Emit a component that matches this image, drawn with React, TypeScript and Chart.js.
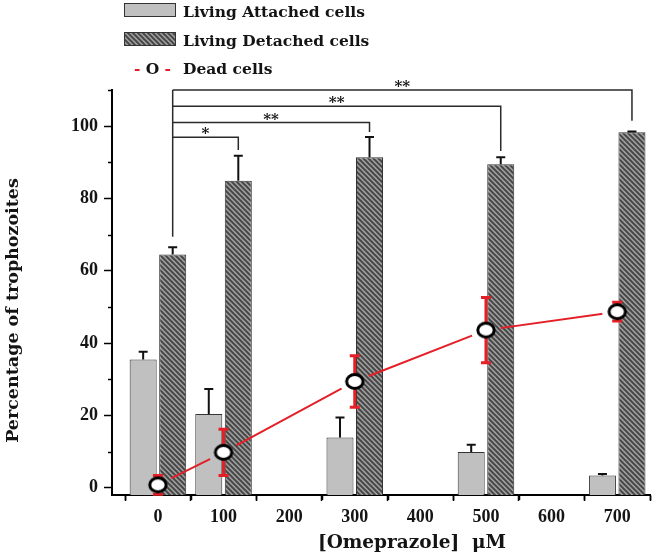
import React, { useEffect, useRef } from 'react';
import { Chart, registerables } from 'chart.js';

Chart.register(...registerables);

// ---- data ----
const concentrations = [0, 100, 300, 500, 700];
const attached = [35.5, 20.4, 13.9, 9.9, 3.4];
const attachedErr = [2.1, 6.9, 5.5, 2.0, 0.4];
const detached = [64.5, 84.9, 91.4, 89.5, 98.3];
const detachedErr = [2.0, 6.9, 5.6, 1.9, 0.2];
const dead = [0.8, 9.8, 29.4, 43.6, 48.7];
const deadErr = [2.6, 6.4, 7.1, 9.0, 2.6];

const legendLabels = ['Living Attached cells', 'Living Detached cells', 'Dead cells'];
const xTitle = '[Omeprazole]  \u03BCM';
const yTitle = 'Percentage of trophozoites';

// significance brackets: compared concentration, mark, bracket level, drop end (data units)
const sigCompare = [100, 300, 500, 700];
const sigMarks = ['*', '**', '**', '**'];
const sigLevels = [96.9, 101, 105.5, 110];
const sigDrops = [93.4, 98.4, 93.1, 101.5];
const sigBaseDrop = 69.4;

const X_MIN = -70;
const X_MAX = 750;
const Y_MIN = -2;
const Y_MAX = 110;

const RED = '#e41f26';
const TEXT = '#141414';
const SERIF = '"DejaVu Serif", serif';
const NUMF = '"Liberation Serif", serif';

function makeHatch(): CanvasPattern | string {
  const s = 5;
  const c = document.createElement('canvas');
  c.width = s;
  c.height = s;
  const g = c.getContext('2d');
  if (!g) return '#6d6d6d';
  g.fillStyle = '#9c9c9c';
  g.fillRect(0, 0, s, s);
  g.strokeStyle = '#444444';
  g.lineWidth = 1.9;
  g.beginPath();
  g.moveTo(-1, -1);
  g.lineTo(s + 1, s + 1);
  g.moveTo(-1, s - 1);
  g.lineTo(1, s + 1);
  g.moveTo(s - 1, -1);
  g.lineTo(s + 1, 1);
  g.stroke();
  return g.createPattern(c, 'repeat') || '#6d6d6d';
}

function makeMarker(): HTMLCanvasElement {
  const c = document.createElement('canvas');
  c.width = 22;
  c.height = 19;
  const g = c.getContext('2d')!;
  g.beginPath();
  g.ellipse(11, 9.5, 8.2, 6.9, 0, 0, Math.PI * 2);
  g.fillStyle = '#ffffff';
  g.fill();
  g.lineWidth = 3;
  g.strokeStyle = '#000000';
  g.stroke();
  return c;
}

const xy = (arr: number[]) => concentrations.map((c, i) => ({ x: c, y: arr[i] }));

export default function App() {
  const ref = useRef<HTMLCanvasElement>(null);

  useEffect(() => {
    const canvas = ref.current;
    if (!canvas) return;
    const hatch = makeHatch();
    const marker = makeMarker();
    const GAP_R = 15;

    const annotate = {
      id: 'annotate',
      beforeDatasetDraw(chart: any, args: any) {
        if (args.index !== 2) return;
        const ctx = chart.ctx;
        const meta = chart.getDatasetMeta(2);
        ctx.save();
        ctx.beginPath();
        ctx.rect(0, 0, chart.width, chart.height);
        meta.data.forEach((p: any) => {
          ctx.moveTo(p.x + GAP_R, p.y);
          ctx.arc(p.x, p.y, GAP_R, 0, Math.PI * 2);
        });
        ctx.clip('evenodd');
      },
      afterDatasetDraw(chart: any, args: any) {
        const ctx = chart.ctx;
        const ys = chart.scales.y;
        if (args.index === 2) {
          ctx.restore();
          const meta = chart.getDatasetMeta(2);
          ctx.save();
          ctx.strokeStyle = RED;
          ctx.lineWidth = 3;
          meta.data.forEach((p: any, i: number) => {
            const top = ys.getPixelForValue(dead[i] + deadErr[i]);
            const bot = ys.getPixelForValue(dead[i] - deadErr[i]);
            ctx.beginPath();
            ctx.moveTo(p.x, top);
            ctx.lineTo(p.x, bot);
            ctx.moveTo(p.x - 5, top);
            ctx.lineTo(p.x + 5, top);
            ctx.moveTo(p.x - 5, bot);
            ctx.lineTo(p.x + 5, bot);
            ctx.stroke();
          });
          ctx.restore();
        }
        if (args.index === 0) {
          ctx.save();
          ctx.strokeStyle = '#111';
          ctx.lineWidth = 2;
          const sets: [number, number[], number[]][] = [
            [0, attached, attachedErr],
            [1, detached, detachedErr],
          ];
          sets.forEach(([di, vals, errs]) => {
            const meta = chart.getDatasetMeta(di);
            meta.data.forEach((b: any, i: number) => {
              const top = ys.getPixelForValue(vals[i]);
              const end = ys.getPixelForValue(vals[i] + errs[i]);
              ctx.beginPath();
              ctx.moveTo(b.x, top);
              ctx.lineTo(b.x, end);
              ctx.moveTo(b.x - 4.5, end);
              ctx.lineTo(b.x + 4.5, end);
              ctx.stroke();
            });
          });
          ctx.restore();
        }
      },
      afterDraw(chart: any) {
        const ctx = chart.ctx;
        const xs = chart.scales.x;
        const ys = chart.scales.y;
        const area = chart.chartArea;
        ctx.save();

        // minor ticks
        ctx.strokeStyle = '#000';
        ctx.lineWidth = 1.5;
        ctx.beginPath();
        for (let v = -50; v <= X_MAX; v += 100) {
          const px = Math.round(xs.getPixelForValue(v)) + 0.5;
          ctx.moveTo(px, area.bottom);
          ctx.lineTo(px, area.bottom + 5);
        }
        for (let v = 10; v <= Y_MAX; v += 20) {
          const py = Math.round(ys.getPixelForValue(v)) + 0.5;
          ctx.moveTo(area.left, py);
          ctx.lineTo(area.left - 4, py);
        }
        ctx.stroke();

        // significance brackets
        const det = chart.getDatasetMeta(1);
        const x0 = det.data[0].x;
        ctx.strokeStyle = '#2a2a2a';
        ctx.lineWidth = 1.5;
        ctx.beginPath();
        ctx.moveTo(x0, ys.getPixelForValue(sigLevels[sigLevels.length - 1]));
        ctx.lineTo(x0, ys.getPixelForValue(sigBaseDrop));
        sigCompare.forEach((c, k) => {
          const idx = concentrations.indexOf(c);
          const x1 = det.data[idx].x;
          const yl = ys.getPixelForValue(sigLevels[k]);
          ctx.moveTo(x0, yl);
          ctx.lineTo(x1, yl);
          ctx.lineTo(x1, ys.getPixelForValue(sigDrops[k]));
        });
        ctx.stroke();
        ctx.fillStyle = TEXT;
        ctx.font = `bold 15px ${SERIF}`;
        ctx.textAlign = 'center';
        ctx.textBaseline = 'alphabetic';
        sigCompare.forEach((c, k) => {
          const idx = concentrations.indexOf(c);
          const x1 = det.data[idx].x;
          const yl = ys.getPixelForValue(sigLevels[k]);
          ctx.fillText(sigMarks[k], (x0 + x1) / 2, yl + 1);
        });

        // legend
        const lx = 124;
        const ds = chart.data.datasets;
        ctx.lineWidth = 1;
        ctx.strokeStyle = '#333';
        ctx.fillStyle = ds[0].backgroundColor;
        ctx.fillRect(lx, 3, 52, 14);
        ctx.strokeRect(lx + 0.5, 3.5, 51, 13);
        ctx.fillStyle = ds[1].backgroundColor;
        ctx.fillRect(lx, 32, 52, 14);
        ctx.strokeRect(lx + 0.5, 32.5, 51, 13);
        ctx.font = `bold 15.5px ${SERIF}`;
        ctx.textAlign = 'left';
        ctx.fillStyle = TEXT;
        ctx.fillText(legendLabels[0], 183, 17);
        ctx.fillText(legendLabels[1], 183, 45.5);
        ctx.fillText(legendLabels[2], 183, 73.5);
        ctx.fillStyle = RED;
        ctx.fillText('-', 134, 73.5);
        ctx.textAlign = 'right';
        ctx.fillText('-', 171, 73.5);
        ctx.fillStyle = TEXT;
        ctx.textAlign = 'center';
        ctx.fillText('O', 152.5, 73.5);

        // axis titles
        ctx.font = `bold 18.5px ${SERIF}`;
        ctx.textAlign = 'center';
        ctx.textBaseline = 'middle';
        ctx.fillStyle = TEXT;
        ctx.fillText(xTitle, (area.left + area.right) / 2 + 31, 543);
        ctx.save();
        ctx.translate(13.5, (area.top + area.bottom) / 2 + 18);
        ctx.rotate(-Math.PI / 2);
        ctx.font = `bold 17.5px ${SERIF}`;
        ctx.fillText(yTitle, 0, 0);
        ctx.restore();

        ctx.restore();
      },
    };

    const chart = new Chart(canvas, {
      type: 'bar',
      data: {
        datasets: [
          {
            type: 'bar',
            label: legendLabels[0],
            data: xy(attached),
            backgroundColor: '#c0c0c0',
            borderColor: '#333333',
            borderWidth: 1,
            base: Y_MIN,
            categoryPercentage: 0.9,
            barPercentage: 0.915,
            order: 3,
          },
          {
            type: 'bar',
            label: legendLabels[1],
            data: xy(detached),
            backgroundColor: hatch,
            borderColor: '#333333',
            borderWidth: 1,
            base: Y_MIN,
            categoryPercentage: 0.9,
            barPercentage: 0.915,
            order: 3,
          },
          {
            type: 'line',
            label: legendLabels[2],
            data: xy(dead),
            borderColor: RED,
            borderWidth: 2,
            pointRadius: 0,
            tension: 0,
            fill: false,
            order: 2,
            clip: false,
          },
          {
            type: 'line',
            label: 'dead-markers',
            data: xy(dead),
            showLine: false,
            pointStyle: marker,
            pointRadius: 10,
            order: 1,
            clip: false,
          },
        ],
      } as any,
      options: {
        responsive: false,
        animation: false,
        events: [],
        layout: { padding: { top: 90, right: 14, bottom: 0, left: 0 } },
        plugins: {
          legend: { display: false },
          tooltip: { enabled: false },
        },
        scales: {
          x: {
            type: 'linear',
            min: X_MIN,
            max: X_MAX,
            offset: false,
            grid: {
              drawOnChartArea: false,
              drawTicks: true,
              tickLength: 6,
              tickColor: '#000',
              tickWidth: 1.5,
            },
            border: { display: true, color: '#000', width: 2 },
            ticks: {
              stepSize: 100,
              includeBounds: false,
              autoSkip: false,
              maxRotation: 0,
              padding: 6,
              color: TEXT,
              font: { family: NUMF, size: 18, weight: 'bold' },
              callback: (v: any) => String(v),
            },
            afterFit: (s: any) => {
              s.height = 64;
            },
          },
          y: {
            type: 'linear',
            min: Y_MIN,
            max: Y_MAX,
            grid: {
              drawOnChartArea: false,
              drawTicks: true,
              tickLength: 8,
              tickColor: '#000',
              tickWidth: 1.5,
            },
            border: { display: true, color: '#000', width: 2 },
            ticks: {
              stepSize: 20,
              includeBounds: false,
              autoSkip: false,
              padding: 6,
              color: TEXT,
              font: { family: NUMF, size: 18, weight: 'bold' },
            },
            afterFit: (s: any) => {
              s.width = 112;
            },
          },
        },
      } as any,
      plugins: [annotate],
    });

    return () => chart.destroy();
  }, []);

  return (
    <canvas
      ref={ref}
      width={664}
      height={559}
      style={{ position: 'fixed', left: 0, top: 0, width: 664, height: 559, background: '#fff' }}
    />
  );
}
